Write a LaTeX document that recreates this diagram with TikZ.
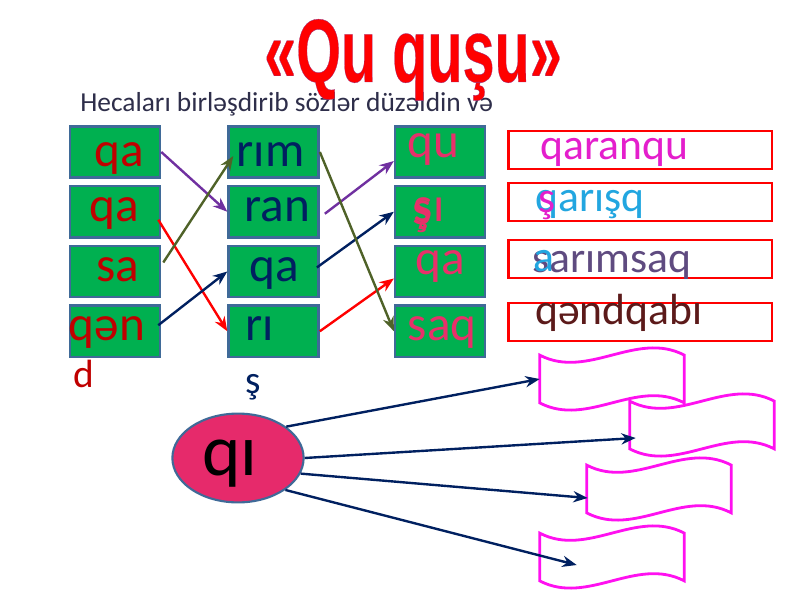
\documentclass[tikz,border=0pt]{standalone}
\usepackage{fontspec}
\setmainfont{Carlito}
\newfontfamily\titlefont{Liberation Sans}
\usepackage{xcolor}
\usepackage{graphicx}
\usepackage{tikz}
\usetikzlibrary{arrows.meta,positioning,calc,shapes.geometric}
\definecolor{tilegreen}{HTML}{00B050}
\definecolor{tileedge}{HTML}{3F6A98}
\definecolor{rust}{HTML}{C00000}
\definecolor{navyblue}{HTML}{002060}
\definecolor{rose}{HTML}{E8306A}
\definecolor{boxred}{HTML}{FF0000}
\definecolor{magentatx}{HTML}{E41ECC}
\definecolor{cyantx}{HTML}{22A6E0}
\definecolor{plum}{HTML}{5F4B80}
\definecolor{brownish}{HTML}{5C1A1A}
\definecolor{qifill}{HTML}{E62A6B}
\definecolor{bannerpink}{HTML}{FF10F0}
\definecolor{violetline}{HTML}{7030A0}
\definecolor{oliveline}{HTML}{4F6228}
\definecolor{subgrey}{HTML}{2E2E4A}
\newcommand{\outlined}[1]{\special{pdf:literal direct 2 Tr 0.25 w 0.6 0.2 0.5 RG}#1\special{pdf:literal direct 0 Tr}}
\tikzset{
  tile/.style={draw=tileedge, fill=tilegreen, line width=1.8pt, minimum width=2.25cm, minimum height=1.28cm, inner sep=0pt},
  syl/.style={anchor=base, inner sep=0pt, font=\fontsize{35}{38}\selectfont},
  wordbox/.style={draw=boxred, fill=white, line width=1.6pt, minimum width=6.58cm, minimum height=0.95cm, inner sep=0pt},
  word/.style={anchor=base west, inner sep=0pt, font=\fontsize{31}{34}\selectfont},
  blank/.style={minimum width=3.6cm, minimum height=1.18cm, inner sep=0pt},
  wave/.style={draw=bannerpink, fill=white, line width=2pt},
  link/.style={-{Stealth[length=3.6mm, width=2.8mm]}, line width=1.7pt}
}

\begin{document}
\begin{tikzpicture}[x=0.025cm, y=-0.025cm]
  \fill[white] (0,0) rectangle (800,600);

  \node[anchor=base, inner sep=0pt, text=subgrey, font=\fontsize{19.5}{22}\selectfont, anchor=base west] (task) at (80,112) {Hecaları birləşdirib sözlər düzəldin və};
  \node[anchor=base, inner sep=0pt, text=boxred, font=\titlefont\bfseries\fontsize{64}{66}\selectfont] (title) at (413,82) {\scalebox{0.64}[1]{\outlined{«Qu quşu»}}};

  % syllable tiles
  \node[tile] (left1) at (115,152) {};
  \node[tile, below=1.5mm of left1] (left2) {};
  \node[tile, below=1.5mm of left2] (left3) {};
  \node[tile, below=1.5mm of left3] (left4) {};
  \node[tile, right=1.65cm of left1] (mid1) {};
  \node[tile, below=1.5mm of mid1] (mid2) {};
  \node[tile, below=1.5mm of mid2] (mid3) {};
  \node[tile, below=1.5mm of mid3] (mid4) {};
  \node[tile, right=1.85cm of mid1] (right1) {};
  \node[tile, below=1.5mm of right1] (right2) {};
  \node[tile, below=1.5mm of right2] (right3) {};
  \node[tile, below=1.5mm of right3] (right4) {};

  \node[syl, text=rust] (sL1) at ($(left1)+(4,15)$) {qa};
  \node[syl, text=rust] (sL2) at ($(left2)+(-1,10)$) {qa};
  \node[syl, text=rust] (sL3) at ($(left3)+(3,10)$) {sa};
  \node[syl, text=rust] (sL4) at ($(left4)+(-8,9)$) {qən};
  \node[syl, text=navyblue] (sM1) at ($(mid1)+(-3,15)$) {rım};
  \node[syl, text=navyblue] (sM2) at ($(mid2)+(4,10)$) {ran};
  \node[syl, text=navyblue] (sM3) at ($(mid3)+(1,10)$) {qa};
  \node[syl, text=navyblue] (sM4) at ($(mid4)+(-14,9)$) {rı};
  \node[syl, text=rose] (sR1) at ($(right1)+(-7,6)$) {qu};
  \node[syl, text=rose] (sR2) at ($(right2)+(-11,10)$) {şı};
  \node[syl, text=rose, anchor=base west] (sR2b) at ($(right2.west)+(18,13)$) {ş};
  \node[syl, text=rose] (sR3) at ($(right3)+(0,3)$) {qa};
  \node[syl, text=rose] (sR4) at ($(right4)+(2,9)$) {saq};

  \node[anchor=base west, inner sep=0pt, text=rust, font=\fontsize{28}{30}\selectfont] (tailD) at (73,388) {d};
  \node[anchor=base west, inner sep=0pt, text=navyblue, font=\fontsize{28}{30}\selectfont] (tailS) at (245,393) {ş};

  \draw[link, draw=violetline] (left1.east) -- (mid2.west);
  \draw[link, draw=boxred] ($(left2.east)+(-3,8)$) -- (mid4.west);
  \draw[link, draw=oliveline] ($(left3.east)+(2,-9)$) -- ($(mid1.west)+(6,4)$);
  \draw[link, draw=navyblue] ($(left4.east)+(-3,-6)$) -- (mid3.west);
  \draw[link, draw=violetline] ($(mid2.east)+(5,2)$) -- ($(right1.west)+(0,9)$);
  \draw[link, draw=navyblue] ($(mid3.east)+(-3,-4)$) -- (right2.west);
  \draw[link, draw=boxred] (mid4.east) -- ($(right3.west)+(0,7)$);
  \draw[link, draw=oliveline] (mid1.east) -- (right4.west);

  % word list
  \node[wordbox] (word1) at (640,150) {};
  \node[wordbox] (word2) at (640,202) {};
  \node[wordbox] (word3) at (640,259) {};
  \node[wordbox] (word4) at (640,322) {};
  \node[word, text=magentatx] (w1) at (540,160) {qaranqu};
  \node[word, text=cyantx] (w2) at (535,212) {qarışq};
  \node[word, text=magentatx] (w2b) at (538,213) {ş};
  \node[word, text=plum] (w3) at (532,273) {sarımsaq};
  \node[word, text=cyantx] (w3b) at (533,272) {a};
  \node[word, text=brownish] (w4) at (535,325) {qəndqabı};

  % qı and the empty flags
  \node[ellipse, draw=tileedge, line width=1.5pt, fill=qifill, minimum width=3.28cm, minimum height=2.22cm, inner sep=0pt,
        text depth=0pt, text height=0.85cm, font=\fontsize{52}{56}\selectfont] (qi) at (238,458) {\hspace*{-0.4cm}qı};
  \node[blank] (blank1) at (612,379) {};
  \node[blank] (blank2) at (702,425) {};
  \node[blank] (blank3) at (659,489) {};
  \node[blank] (blank4) at (612,557) {};
  \foreach \b in {blank1,blank2,blank3,blank4}
    \draw[wave] (\b.north west) .. controls +(48,25) and +(-48,-25) .. (\b.north east)
      -- (\b.south east) .. controls +(-48,-25) and +(48,25) .. (\b.south west) -- cycle;

  \draw[link, draw=navyblue] (qi.33) -- (blank1.west);
  \draw[link, draw=navyblue] (qi.0) -- ($(blank2.west)+(6,13)$);
  \draw[link, draw=navyblue] (qi.-14) -- ($(blank3.west)+(1,9)$);
  \draw[link, draw=navyblue] (qi.-34) -- ($(blank4.west)+(37,8)$);
\end{tikzpicture}
\end{document}
